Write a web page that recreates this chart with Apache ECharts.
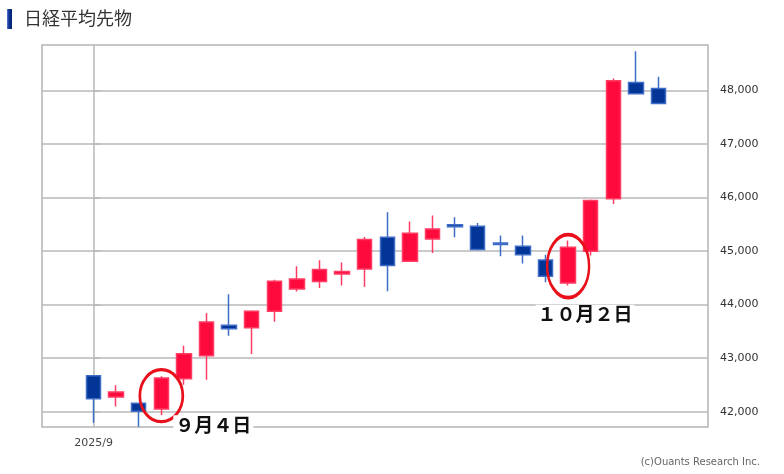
<!DOCTYPE html>
<html><head><meta charset="utf-8">
<script src="https://cdn.jsdelivr.net/npm/echarts@6/dist/echarts.min.js"></script>
<style>html,body{margin:0;padding:0;background:#fff}#c{width:784px;height:474px}</style>
</head><body><div id="c"></div>
<script>
// trading days (index 0 = 2025/9/1)
const dates = ['9/1','9/2','9/3','9/4','9/5','9/8','9/9','9/10','9/11','9/12','9/16','9/17','9/18','9/19','9/22','9/24','9/25','9/26','9/29','9/30','10/1','10/2','10/3','10/6','10/7','10/8'];
const openV  = [42673,42275,42159,42050,42617,43047,43617,43570,43878,44293,44430,44573,44667,45258,44809,45228,45490,45465,45153,45090,44835,44405,44996,45976,48150,48037];
const closeV = [42243,42370,42006,42630,43084,43676,43551,43875,44435,44480,44654,44617,45215,44729,45333,45415,45453,45028,45121,44934,44529,45071,45944,48182,47937,47757];
const lowV   = [41794,42099,41720,41935,42505,42598,43420,43078,43682,44243,44312,44355,44330,44248,44800,44966,45260,45009,44902,44766,44417,44355,44916,45882,47930,47750];
const highV  = [42680,42492,42170,42660,43234,43845,44196,43894,44467,44716,44828,44785,45265,45725,45551,45663,45634,45527,45290,45290,44934,45196,45962,48224,48735,48256];
const yTicks = [42000,43000,44000,45000,46000,47000,48000];
const xTickIndex = [0];
const xTickLabels = ['2025/9'];
const annoIndex = [3, 21];
const annoValue = [42299, 44719];
const annoText = ['９月４日', '１０月２日'];
const titleText = '日経平均先物';
const creditText = '(c)Ouants Research Inc.';

const candleData = dates.map((d, i) => [i, openV[i], closeV[i], lowV[i], highV[i]]);
const annoStyles = [
  {size: [43, 52], offset: [52, 29]},
  {size: [42, 63], offset: [17, 48]}
];
const markData = annoIndex.map((idx, k) => ({
  coord: [idx, annoValue[k]],
  symbol: 'circle',
  symbolSize: annoStyles[k].size,
  itemStyle: {color: 'rgba(0,0,0,0)', borderColor: '#e8101a', borderWidth: 3},
  label: {
    show: true, position: 'inside', offset: annoStyles[k].offset,
    formatter: annoText[k], fontSize: 19, fontWeight: 'bold', color: '#111',
    fontFamily: '"Noto Sans CJK JP", sans-serif',
    backgroundColor: '#fff', padding: [0, 2]
  }
}));

const chart = echarts.init(document.getElementById('c'), null, {renderer: 'canvas'});
chart.setOption({
  animation: false,
  backgroundColor: '#fff',
  grid: {left: 42, right: 76, top: 45, bottom: 47, show: true, borderColor: '#b4b4b4', borderWidth: 1.5, backgroundColor: 'rgba(0,0,0,0)'},
  graphic: [
    {type: 'rect', left: 7, top: 9, shape: {width: 5, height: 20},
     style: {fill: new echarts.graphic.LinearGradient(0, 0, 1, 0, [{offset: 0, color: '#5a7fd0'}, {offset: 0.4, color: '#0b2f94'}, {offset: 1, color: '#06256f'}])}},
    {type: 'text', left: 24, top: 9, style: {text: titleText, fontSize: 18, fill: '#333', fontFamily: '"Noto Sans CJK JP", sans-serif'}},
    {type: 'text', right: 24, top: 457, style: {text: creditText, fontSize: 10, fill: '#666', fontFamily: '"DejaVu Sans", sans-serif'}}
  ],
  xAxis: {
    type: 'value', min: -2.28, max: 27.19,
    axisLine: {show: false},
    axisTick: {show: false, customValues: xTickIndex},
    axisLabel: {customValues: xTickIndex, formatter: (v) => xTickLabels[xTickIndex.indexOf(Math.round(v))] || '', fontSize: 11, color: '#444', fontFamily: '"DejaVu Sans", sans-serif', margin: 11},
    splitLine: {show: true, lineStyle: {color: '#b8b8b8', width: 1.5}}
  },
  yAxis: {
    type: 'value', position: 'right', min: 41714, max: 48850, scale: true,
    axisLine: {show: false},
    axisTick: {show: true, inside: false, length: 6, customValues: yTicks, lineStyle: {color: '#b8b8b8', width: 1.5}},
    axisLabel: {customValues: yTicks, formatter: (v) => v.toLocaleString('en-US'), fontSize: 11, color: '#333', fontFamily: '"DejaVu Sans", sans-serif', margin: 12},
    splitLine: {show: true, lineStyle: {color: '#b8b8b8', width: 1.5}}
  },
  series: [{
    type: 'candlestick',
    data: candleData,
    barWidth: 15,
    itemStyle: {color: '#ff0a3c', color0: '#023595', borderColor: '#ff3d63', borderColor0: '#3f6cc6', borderWidth: 1.5},
    markPoint: {silent: true, data: markData, animation: false}
  }]
});
</script></body></html>
